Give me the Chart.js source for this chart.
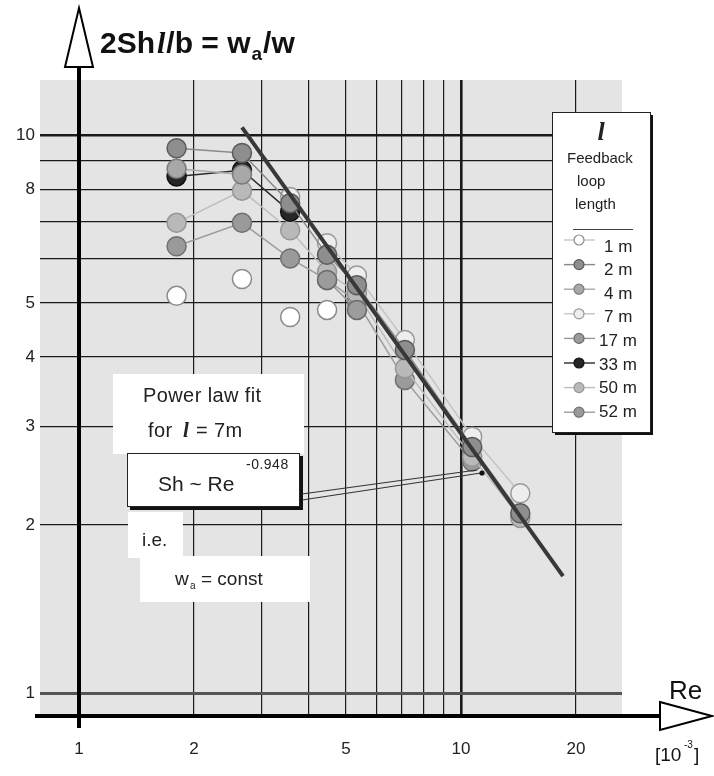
<!DOCTYPE html>
<html>
<head>
<meta charset="utf-8">
<script src="https://cdn.jsdelivr.net/npm/chart.js@4.4.1/dist/chart.umd.min.js"></script>
<style>
    html, body { margin: 0; padding: 0; background: #fff; }
    #wrap { position: relative; width: 714px; height: 776px; }
</style>
</head>
<body>
<div id="wrap"><canvas id="chart" width="714" height="776"></canvas></div>
<script>
// Re [10^3] positions of the measurement columns
const reValues = [1.8, 2.67, 3.57, 4.46, 5.34, 7.13, 10.7, 14.3];

// 2Sh l / b for each feedback loop length (null = no point)
const loopLabels = ["1 m", "2 m", "4 m", "7 m", "17 m", "33 m", "50 m", "52 m"];
const sh1m  = [5.15, 5.52, 4.72, 4.86, null, null, null, null];
const sh2m  = [9.47, 9.29, 7.55, 6.10, 5.38, 4.12, 2.76, 2.10];
const sh4m  = [8.70, 8.50, null, null, null, null, null, null];
const sh7m  = [null, null, 7.74, 6.40, 5.60, 4.29, 2.88, 2.28];
const sh17m = [null, null, null, 5.50, 4.86, null, null, null];
const sh33m = [8.43, 8.65, 7.29, null, null, null, null, null];
const sh50m = [6.96, 7.95, 6.75, 5.69, 5.20, 3.82, 2.65, 2.06];
const sh52m = [6.32, 6.96, 6.01, 5.50, 5.03, 3.64, 2.60, null];

// power law fit for l = 7m
const fitRe = [2.67, 18.5];
const fitSh = [10.32, 1.62];

// axes
const xTickValues = [1, 2, 3, 4, 5, 6, 7, 8, 9, 10, 20];
const xTickLabels = ["1", "2", "", "", "5", "", "", "", "", "10", "20"];
const yTickValues = [1, 2, 3, 4, 5, 6, 7, 8, 9, 10];
const yTickLabels = ["1", "2", "3", "4", "5", "", "", "8", "", "10"];

const sans = '"Liberation Sans", Arial, Helvetica, sans-serif';
const serif = '"Liberation Serif", "Times New Roman", serif';

const seriesValues = [sh1m, sh2m, sh4m, sh7m, sh17m, sh33m, sh50m, sh52m];
const seriesStyles = [
    { fill: "#ffffff", edge: "#8a8a8a", line: "rgba(0,0,0,0)", legendLine: "#c8c8c8" },
    { fill: "#8e8e8e", edge: "#5a5a5a", line: "#8a8a8a" },
    { fill: "#a8a8a8", edge: "#7a7a7a", line: "#a8a8a8" },
    { fill: "#eeeeee", edge: "#9a9a9a", line: "#c4c4c4" },
    { fill: "#9c9c9c", edge: "#6a6a6a", line: "#999999" },
    { fill: "#262626", edge: "#111111", line: "#2a2a2a" },
    { fill: "#b9b9b9", edge: "#969696", line: "#bdbdbd" },
    { fill: "#9a9a9a", edge: "#707070", line: "#9c9c9c" }
];

function toPoints(xs, ys) {
    const pts = [];
    xs.forEach((x, i) => {
        if (ys[i] !== null) pts.push({ x: x, y: ys[i] });
    });
    return pts;
}

const datasets = [{
    label: "fit",
    data: toPoints(fitRe, fitSh),
    showLine: true,
    borderColor: "#383838",
    borderWidth: 4,
    pointRadius: 0,
    order: 0
}];

seriesValues.forEach((vals, i) => {
    const st = seriesStyles[i];
    datasets.push({
        label: loopLabels[i],
        data: toPoints(reValues, vals),
        showLine: true,
        borderColor: st.line,
        borderWidth: 1.5,
        pointRadius: 9.5,
        pointBackgroundColor: st.fill,
        pointBorderColor: st.edge,
        pointBorderWidth: 1.5,
        order: 1
    });
});

function drawLegend(ctx, chart) {
    const left = 552, top = 112, w = 98, h = 320;
    ctx.fillStyle = "#111";
    ctx.fillRect(left + 3, top + 3, w, h);
    ctx.fillStyle = "#fff";
    ctx.fillRect(left, top, w, h);
    ctx.strokeStyle = "#222";
    ctx.lineWidth = 1;
    ctx.strokeRect(left + 0.5, top + 0.5, w, h);

    ctx.fillStyle = "#222";
    ctx.textBaseline = "middle";
    ctx.textAlign = "center";
    ctx.font = "italic bold 26px " + serif;
    ctx.fillText("l", 601, 133);
    ctx.textAlign = "left";
    ctx.font = "15px " + sans;
    ctx.fillText("Feedback", 567, 159);
    ctx.fillText("loop", 577, 182);
    ctx.fillText("length", 575, 205);

    ctx.strokeStyle = "#444";
    ctx.beginPath();
    ctx.moveTo(573, 229.5);
    ctx.lineTo(633, 229.5);
    ctx.stroke();

    const sets = chart.data.datasets.slice(1);
    sets.forEach((ds, i) => {
        const st = seriesStyles[i];
        const my = 240 + i * 24.6;
        ctx.strokeStyle = st.legendLine || st.line;
        ctx.lineWidth = 1.4;
        ctx.beginPath();
        ctx.moveTo(564, my);
        ctx.lineTo(595, my);
        ctx.stroke();
        ctx.beginPath();
        ctx.arc(579, my, 5, 0, Math.PI * 2);
        ctx.fillStyle = st.fill;
        ctx.fill();
        ctx.strokeStyle = st.edge;
        ctx.lineWidth = 1.2;
        ctx.stroke();
        ctx.fillStyle = "#222";
        ctx.font = "17px " + sans;
        ctx.textAlign = "left";
        ctx.fillText(ds.label, i < 4 ? 604 : 599, 247 + i * 23.6);
    });
}

function drawNotes(ctx) {
    ctx.fillStyle = "#fff";
    ctx.fillRect(113, 374, 191, 80);
    ctx.fillRect(128, 512, 55, 46);
    ctx.fillRect(140, 556, 170, 46);

    // boxed formula with shadow
    ctx.fillStyle = "#111";
    ctx.fillRect(130, 456, 173, 54);
    ctx.fillStyle = "#fff";
    ctx.fillRect(127, 453, 173, 54);
    ctx.strokeStyle = "#222";
    ctx.lineWidth = 1;
    ctx.strokeRect(127.5, 453.5, 172, 53);

    ctx.fillStyle = "#222";
    ctx.textBaseline = "alphabetic";
    ctx.textAlign = "left";
    ctx.font = "20px " + sans;
    ctx.letterSpacing = "0.4px";
    ctx.fillText("Power law fit", 143, 402);
    ctx.fillText("for", 148, 437);
    ctx.font = "italic bold 21px " + serif;
    ctx.fillText("l", 183, 437);
    ctx.font = "20px " + sans;
    ctx.fillText("= 7m", 196, 437);
    ctx.letterSpacing = "0px";

    ctx.font = "21px " + sans;
    ctx.fillText("Sh ~ Re", 158, 491);
    ctx.font = "14px " + sans;
    ctx.letterSpacing = "0.5px";
    ctx.fillText("-0.948", 246, 469);
    ctx.letterSpacing = "0px";

    ctx.font = "19px " + sans;
    ctx.fillText("i.e.", 142, 546);
    ctx.fillText("w", 175, 585);
    ctx.font = "10px " + sans;
    ctx.fillText("a", 190, 589);
    ctx.font = "19px " + sans;
    ctx.fillText("= const", 201, 585);

    // leader to the fit line
    ctx.strokeStyle = "#333";
    ctx.lineWidth = 1.2;
    ctx.beginPath();
    ctx.moveTo(302, 500);
    ctx.lineTo(481, 473);
    ctx.moveTo(302, 494);
    ctx.lineTo(477, 470);
    ctx.stroke();
    ctx.fillStyle = "#111";
    ctx.beginPath();
    ctx.arc(482, 473, 2.6, 0, Math.PI * 2);
    ctx.fill();
}

const paperPlugin = {
    id: "paper",
    beforeDraw(chart) {
        const { ctx, chartArea: a } = chart;
        ctx.save();
        ctx.fillStyle = "#fff";
        ctx.fillRect(0, 0, chart.width, chart.height);
        ctx.fillStyle = "#e4e4e4";
        ctx.fillRect(a.left, a.top, a.right - a.left, a.bottom - a.top);
        ctx.restore();
    },
    afterDraw(chart) {
        const { ctx, chartArea: a, scales } = chart;
        const xs = scales.x, ys = scales.y;
        ctx.save();

        // tick labels
        ctx.fillStyle = "#222";
        ctx.font = "17px " + sans;
        ctx.textBaseline = "middle";
        ctx.textAlign = "center";
        xTickValues.forEach((v, i) => {
            if (xTickLabels[i]) ctx.fillText(xTickLabels[i], xs.getPixelForValue(v), 749);
        });
        ctx.textAlign = "right";
        yTickValues.forEach((v, i) => {
            if (yTickLabels[i]) ctx.fillText(yTickLabels[i], 35, ys.getPixelForValue(v));
        });

        drawNotes(ctx);
        drawLegend(ctx, chart);

        // axes with open arrow heads
        const ax = Math.round(xs.getPixelForValue(1));
        const ay = a.bottom;
        ctx.strokeStyle = "#000";
        ctx.lineWidth = 4;
        ctx.beginPath();
        ctx.moveTo(ax, 728);
        ctx.lineTo(ax, 66);
        ctx.moveTo(35, ay);
        ctx.lineTo(661, ay);
        ctx.stroke();

        ctx.lineWidth = 2;
        ctx.fillStyle = "#fff";
        ctx.beginPath();
        ctx.moveTo(ax, 8);
        ctx.lineTo(ax + 14, 67);
        ctx.lineTo(ax - 14, 67);
        ctx.closePath();
        ctx.fill();
        ctx.stroke();
        ctx.beginPath();
        ctx.moveTo(660, ay - 14);
        ctx.lineTo(712, ay);
        ctx.lineTo(660, ay + 14);
        ctx.closePath();
        ctx.fill();
        ctx.stroke();

        // title and axis names
        ctx.fillStyle = "#111";
        ctx.textAlign = "left";
        ctx.textBaseline = "alphabetic";
        let tx = 100;
        const base = 53;
        ctx.font = "bold 30px " + sans;
        ctx.fillText("2Sh", tx, base);
        tx += ctx.measureText("2Sh").width + 2;
        ctx.font = "italic bold 30px " + serif;
        ctx.fillText("l", tx, base);
        tx += ctx.measureText("l").width + 1;
        ctx.font = "bold 30px " + sans;
        ctx.fillText("/b = w", tx, base);
        tx += ctx.measureText("/b = w").width;
        ctx.font = "bold 19px " + sans;
        ctx.fillText("a", tx + 1, base + 7);
        tx += ctx.measureText("a").width + 2;
        ctx.font = "bold 30px " + sans;
        ctx.fillText("/w", tx, base);

        ctx.font = "26px " + sans;
        ctx.fillText("Re", 669, 699);
        ctx.font = "19px " + sans;
        ctx.fillText("[10", 655, 761);
        ctx.font = "10px " + sans;
        ctx.fillText("-3", 684, 748);
        ctx.font = "19px " + sans;
        ctx.fillText("]", 694, 761);

        ctx.restore();
    }
};

function gridStyle(v, heavy, base) {
    if (v === 10) return heavy;
    return base;
}

new Chart(document.getElementById("chart"), {
    type: "scatter",
    data: { datasets: datasets },
    options: {
        responsive: false,
        animation: false,
        devicePixelRatio: 1,
        layout: { padding: { left: 40, right: 92, top: 80, bottom: 60 } },
        plugins: {
            legend: { display: false },
            tooltip: { enabled: false }
        },
        scales: {
            x: {
                type: "logarithmic",
                min: 0.790,
                max: 26.4,
                border: { display: false },
                ticks: { display: false },
                afterBuildTicks: (s) => { s.ticks = xTickValues.map(v => ({ value: v })); },
                grid: {
                    drawTicks: false,
                    color: (c) => "#1a1a1a",
                    lineWidth: (c) => gridStyle(c.tick && c.tick.value, 2.6, 1.2)
                }
            },
            y: {
                type: "logarithmic",
                min: 0.9095,
                max: 12.55,
                border: { display: false },
                ticks: { display: false },
                afterBuildTicks: (s) => { s.ticks = yTickValues.map(v => ({ value: v })); },
                grid: {
                    drawTicks: false,
                    color: (c) => (c.tick && c.tick.value === 1) ? "#555555" : "#1a1a1a",
                    lineWidth: (c) => {
                        const v = c.tick && c.tick.value;
                        if (v === 1) return 3;
                        return gridStyle(v, 2.6, 1.2);
                    }
                }
            }
        }
    },
    plugins: [paperPlugin]
});
</script>
</body>
</html>
